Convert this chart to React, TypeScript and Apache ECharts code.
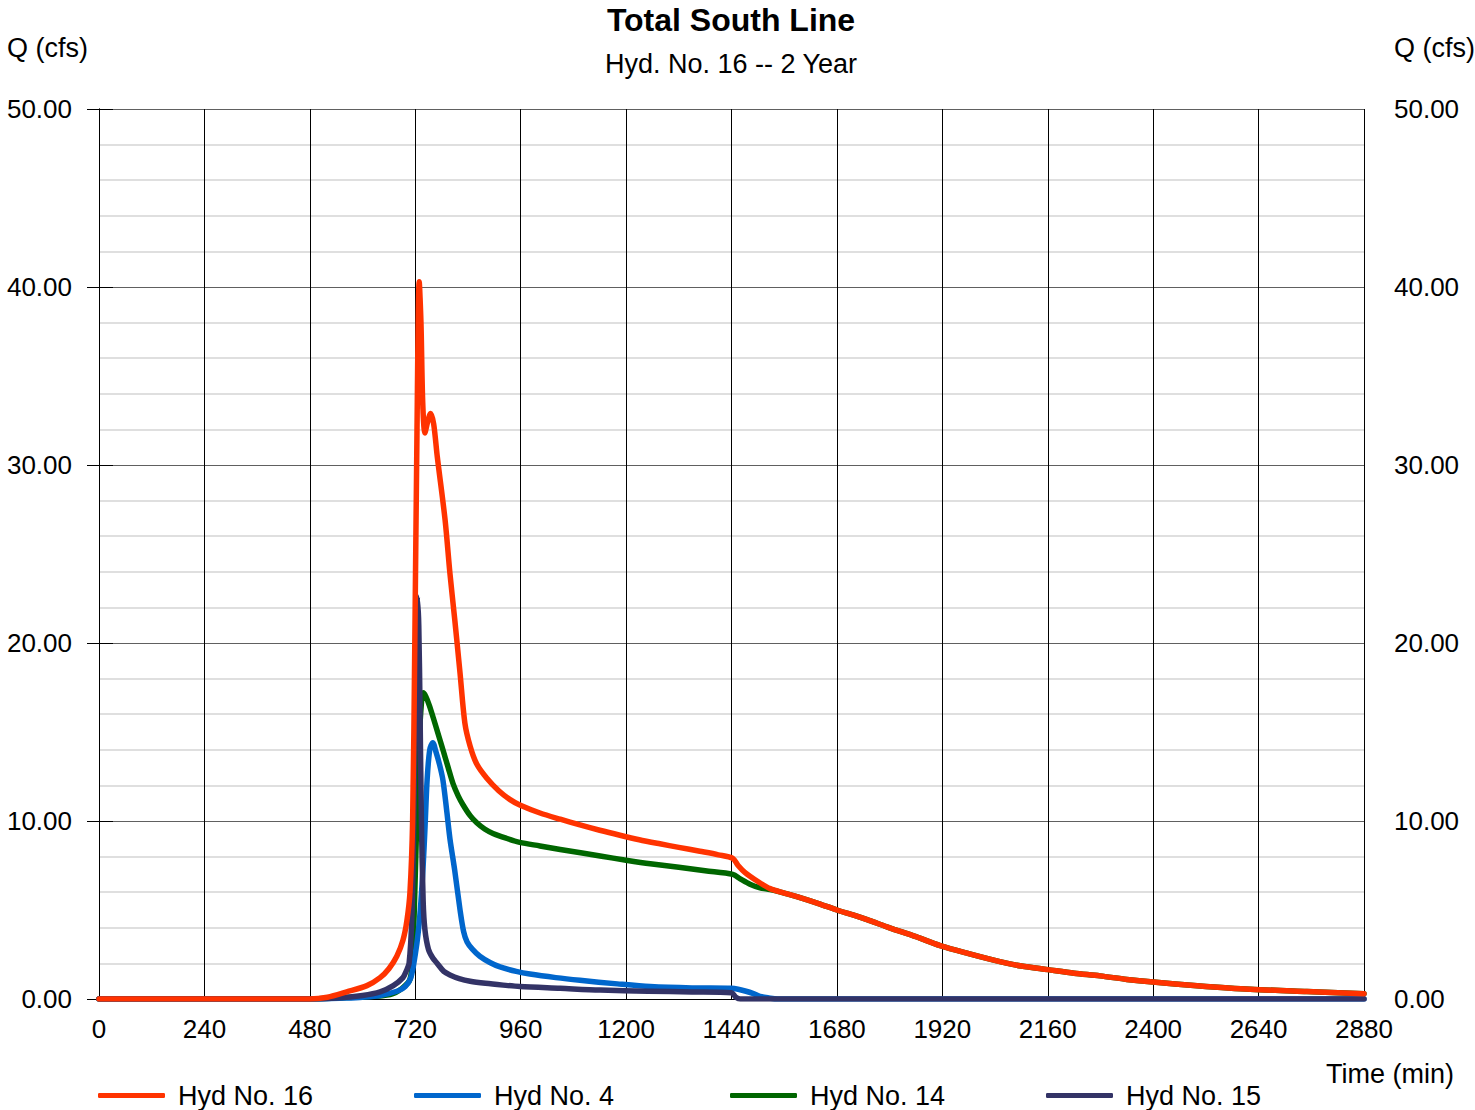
import React, { useEffect, useRef } from "react";
import * as echarts from "echarts";

const seriesNames = ["Hyd No. 16", "Hyd No. 4", "Hyd No. 14", "Hyd No. 15"];
const seriesColors = ["#FF3300", "#0066CC", "#006600", "#333366"];

const xTicks = [0, 240, 480, 720, 960, 1200, 1440, 1680, 1920, 2160, 2400, 2640, 2880];
const yTicks = [0, 10, 20, 30, 40, 50];

// Hyd No. 16 (time min, Q cfs)
const hyd16: [number, number][] = [
  [0, 0], [480, 0], [520, 0.1], [564, 0.4], [610, 0.75], [640, 1.2], [660, 1.7], [678, 2.4], [692, 3.3],
  [701, 4.4], [708, 6], [714, 10], [719, 20], [724, 32], [729, 40.3], [733, 38], [737, 33.5], [742, 31.8],
  [748, 32.4], [755, 32.9], [762, 32.3], [770, 30.5], [788, 26.9], [799, 23.9], [810, 21.3],
  [822, 18.3], [833, 15.5], [845, 14.2], [860, 13.2], [883, 12.4], [910, 11.7], [936, 11.2], [958, 10.9],
  [1004, 10.45], [1050, 10.1], [1095, 9.78], [1140, 9.48], [1186, 9.2], [1230, 8.95], [1277, 8.72],
  [1320, 8.52], [1368, 8.3], [1410, 8.1], [1443, 7.9], [1455, 7.5], [1471, 7.1], [1500, 6.6], [1528, 6.2],
  [1560, 5.95], [1596, 5.7], [1640, 5.35], [1680, 5.0], [1720, 4.7], [1755, 4.4], [1800, 4.0], [1860, 3.5],
  [1915, 3.0], [1980, 2.55], [2051, 2.1], [2100, 1.85], [2160, 1.65], [2220, 1.45], [2279, 1.3], [2340, 1.1],
  [2400, 0.95], [2500, 0.75], [2621, 0.55], [2750, 0.42], [2880, 0.3],
];

// Hyd No. 4
const hyd4: [number, number][] = [
  [0, 0], [500, 0], [560, 0.05], [600, 0.1], [640, 0.2], [680, 0.45], [697, 0.7], [710, 1.2], [720, 2.5],
  [727, 3.8], [733, 5.5], [738, 7.5], [742, 9.5], [747, 12.3], [753, 14.0], [760, 14.4], [767, 13.9],
  [775, 13.2], [783, 12.3], [792, 10.5], [799, 9], [810, 7.2], [822, 5], [830, 3.8], [838, 3.2], [850, 2.8],
  [867, 2.4], [890, 2.05], [913, 1.8], [950, 1.55], [981, 1.4], [1040, 1.2], [1095, 1.05], [1180, 0.85],
  [1255, 0.7], [1350, 0.62], [1440, 0.6], [1455, 0.55], [1471, 0.45], [1490, 0.3], [1505, 0.15],
  [1525, 0.06], [1545, 0], [2880, 0],
];

// Hyd No. 14
const hyd14: [number, number][] = [
  [0, 0], [480, 0], [540, 0.05], [600, 0.12], [663, 0.25], [690, 0.6], [708, 1.1], [714, 2.5],
  [719, 6], [724, 10.5], [729, 14.5], [734, 16.6], [738, 17.2], [744, 17.0], [752, 16.5], [761, 15.8],
  [772, 14.9], [783, 14.0], [795, 13.0], [806, 12.1], [818, 11.4], [829, 10.9], [845, 10.3], [860, 9.9],
  [878, 9.55], [897, 9.3], [925, 9.05], [958, 8.8], [1004, 8.6], [1050, 8.4], [1100, 8.2], [1141, 8.03],
  [1200, 7.8], [1255, 7.6], [1320, 7.4], [1380, 7.2], [1443, 7.0], [1460, 6.75], [1482, 6.45], [1505, 6.25],
  [1528, 6.15], [1560, 5.95], [1596, 5.7], [1640, 5.35], [1680, 5.0], [1720, 4.7], [1755, 4.4], [1800, 4.0],
  [1860, 3.5], [1915, 3.0], [1980, 2.55], [2051, 2.1], [2100, 1.85], [2160, 1.65], [2220, 1.45], [2279, 1.3],
  [2340, 1.1], [2400, 0.95], [2500, 0.75], [2621, 0.55], [2750, 0.42], [2880, 0.3],
];

// Hyd No. 15
const hyd15: [number, number][] = [
  [0, 0], [480, 0], [540, 0.05], [600, 0.2], [640, 0.4], [670, 0.75], [692, 1.2], [700, 1.6], [706, 2.0],
  [712, 4.4], [716, 9], [720, 16], [723, 21], [725, 22.6], [728, 21], [731, 16], [734, 10], [738, 5.5],
  [742, 3.9], [750, 2.8], [760, 2.3], [770, 2.0], [785, 1.55], [799, 1.35], [820, 1.15], [845, 1.0],
  [880, 0.88], [920, 0.78], [958, 0.7], [1050, 0.6], [1141, 0.5], [1250, 0.44], [1350, 0.4], [1440, 0.35],
  [1450, 0.1], [1460, 0], [2880, 0],
];

const FONT = "'Liberation Sans', Arial, sans-serif";

export default function App() {
  const ref = useRef<HTMLDivElement>(null);
  useEffect(() => {
    if (!ref.current) return;
    const chart = echarts.init(ref.current, null, { renderer: "svg" });
    const dataMap: Record<string, [number, number][]> = {
      "Hyd No. 16": hyd16,
      "Hyd No. 4": hyd4,
      "Hyd No. 14": hyd14,
      "Hyd No. 15": hyd15,
    };
    const drawOrder = ["Hyd No. 14", "Hyd No. 4", "Hyd No. 15", "Hyd No. 16"];
    const legendLefts = [93, 409, 725, 1041];
    const option: any = {
      animation: false,
      backgroundColor: "#ffffff",
      textStyle: { fontFamily: FONT },
      grid: { left: 99, right: 111, top: 109, bottom: 111, containLabel: false },
      legend: seriesNames.map((n, i) => ({
        data: [n],
        left: legendLefts[i],
        top: 1077,
        icon: "roundRect",
        itemWidth: 67,
        itemHeight: 5,
        textStyle: { fontSize: 27, color: "#000", fontFamily: FONT, padding: [0, 0, 0, 8] },
        selectedMode: false,
      })),
      xAxis: [
        {
          type: "value",
          min: 0,
          max: 2880,
          interval: 240,
          axisLine: { show: true, lineStyle: { color: "#707070", width: 1 } },
          axisTick: { show: false },
          axisLabel: { fontSize: 26, color: "#000", margin: 17, fontFamily: FONT,
            formatter: (v: number) => (xTicks.includes(v) ? String(v) : "") },
          splitLine: { show: true, lineStyle: { color: "#000", width: 1 } },
        },
        {
          type: "value",
          position: "top",
          min: 0,
          max: 2880,
          interval: 240,
          axisLine: { show: true, lineStyle: { color: "#000", width: 1 } },
          axisTick: { show: false },
          axisLabel: { show: false },
          splitLine: { show: false },
        },
      ],
      yAxis: [
        {
          type: "value",
          min: 0,
          max: 50,
          interval: 10,
          position: "left",
          axisLine: { show: true, lineStyle: { color: "#000", width: 1 } },
          axisTick: { show: true, inside: false, length: 12, lineStyle: { color: "#000" } },
          axisLabel: { fontSize: 26, color: "#000", margin: 27, fontFamily: FONT,
            formatter: (v: number) => (yTicks.includes(v) ? v.toFixed(2) : "") },
          splitLine: { show: true, lineStyle: { color: "#606060", width: 1 } },
          minorTick: { show: false, splitNumber: 5 },
          minorSplitLine: { show: true, lineStyle: { color: "#d4d4d4", width: 1.5 } },
        },
        {
          type: "value",
          min: 0,
          max: 50,
          interval: 10,
          position: "right",
          axisLine: { show: true, lineStyle: { color: "#000", width: 1 } },
          axisTick: { show: true, inside: false, length: 14, lineStyle: { color: "#000" } },
          axisLabel: { fontSize: 26, color: "#000", margin: 30, fontFamily: FONT,
            formatter: (v: number) => (yTicks.includes(v) ? v.toFixed(2) : "") },
          splitLine: { show: false },
        },
      ],
      graphic: [
        { type: "text", x: 731, y: 20, style: { text: "Total South Line", font: `bold 32px ${FONT}`, fill: "#000", textAlign: "center", textVerticalAlign: "middle" } },
        { type: "text", x: 731, y: 64, style: { text: "Hyd. No. 16 -- 2 Year", font: `27px ${FONT}`, fill: "#000", textAlign: "center", textVerticalAlign: "middle" } },
        { type: "text", x: 7, y: 48, style: { text: "Q (cfs)", font: `27px ${FONT}`, fill: "#000", textAlign: "left", textVerticalAlign: "middle" } },
        { type: "text", x: 1394, y: 48, style: { text: "Q (cfs)", font: `27px ${FONT}`, fill: "#000", textAlign: "left", textVerticalAlign: "middle" } },
        { type: "text", x: 1326, y: 1074, style: { text: "Time (min)", font: `27px ${FONT}`, fill: "#000", textAlign: "left", textVerticalAlign: "middle" } },
      ],
      series: drawOrder.map((n) => ({
        name: n,
        type: "line",
        data: dataMap[n],
        showSymbol: false,
        symbol: "none",
        smooth: 0.3,
        color: seriesColors[seriesNames.indexOf(n)],
        lineStyle: { width: 5.5, color: seriesColors[seriesNames.indexOf(n)], cap: "round", join: "round" },
        z: 3,
      })),
    };
    chart.setOption(option);
    return () => chart.dispose();
  }, []);
  return <div ref={ref} style={{ position: "fixed", left: 0, top: 0, width: 1475, height: 1110 }} />;
}
